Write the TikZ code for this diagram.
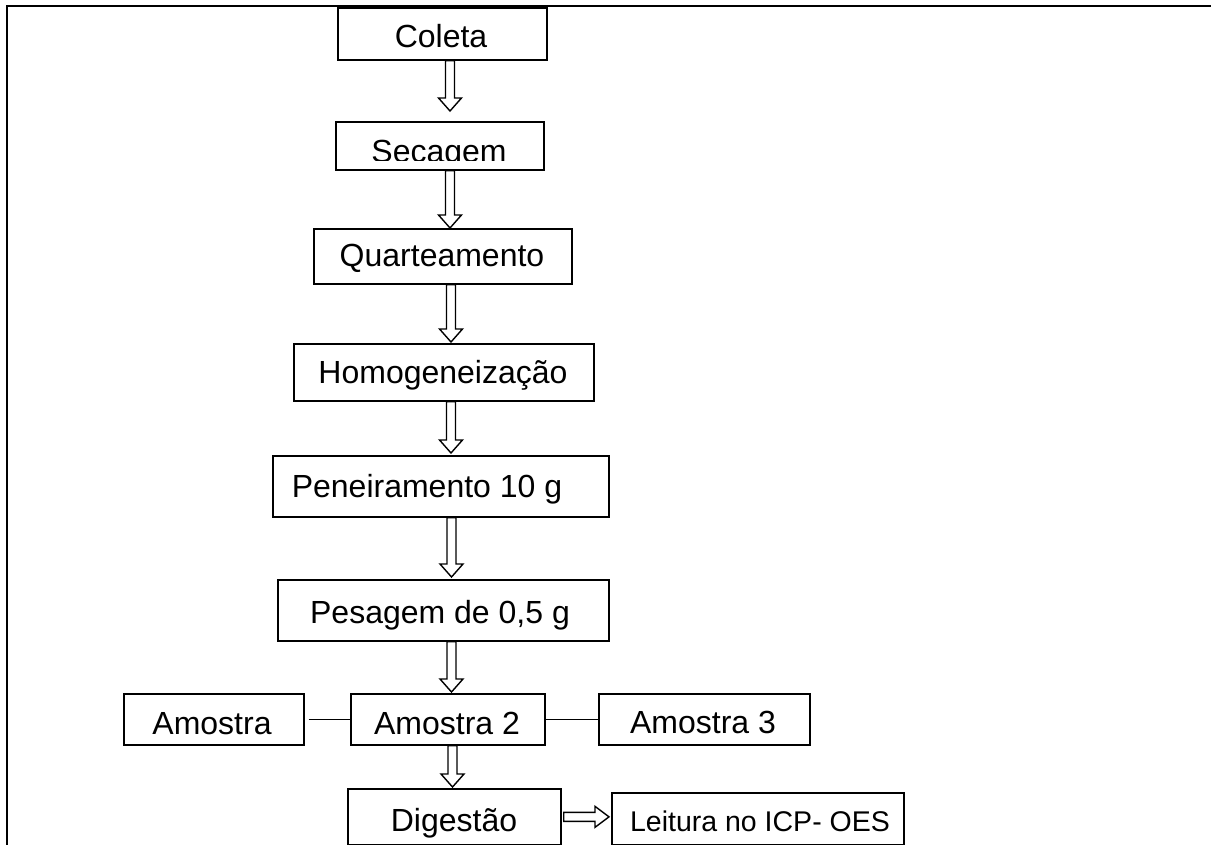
\documentclass[tikz,border=0pt]{standalone}
\usepackage{fontspec}
\setmainfont{Liberation Sans}
\usetikzlibrary{calc}
\tikzset{
  stepbox/.style={draw=black, line width=1.7pt, fill=white, inner sep=0pt, anchor=north west},
  lbl/.style={anchor=base, inner sep=0pt, font=\fontsize{32}{38}\selectfont},
  hollow/.style={draw=black, line width=1.4pt, fill=white, line join=miter},
  frameline/.style={draw=black, line width=2.6pt},
  link/.style={draw=black, line width=1.4pt}
}
% #1 from node, #2 to node, #3 x centre, #4 gap before target
\newcommand{\hollowdown}[4]{%
  \path let \p1=(#1.south), \p2=(#2.north) in
  [hollow] (#3pt-4.5pt,\y1) -- (#3pt+4.5pt,\y1) -- (#3pt+4.5pt,\y2+#4pt+13pt)
  -- (#3pt+11.5pt,\y2+#4pt+13pt) -- (#3pt,\y2+#4pt) -- (#3pt-11.5pt,\y2+#4pt+13pt)
  -- (#3pt-4.5pt,\y2+#4pt+13pt) -- cycle;}
\begin{document}
\begin{tikzpicture}[x=1pt,y=-1pt]
\useasboundingbox (0,0) rectangle (1211,845);
% frame
\draw[frameline] (7,847) -- (7,6) -- (1213,6);

% boxes
\node[stepbox, minimum width=209pt, minimum height=52pt] (coleta) at (337,7) {};
\node[stepbox, minimum width=208pt, minimum height=48pt] (secagem) at (335,121) {};
\node[stepbox, minimum width=258pt, minimum height=55pt] (quart) at (313,228) {};
\node[stepbox, minimum width=300pt, minimum height=57pt] (homog) at (293,343) {};
\node[stepbox, minimum width=336pt, minimum height=61pt] (pene) at (272,455) {};
\node[stepbox, minimum width=331pt, minimum height=61pt] (pesa) at (277,579) {};
\node[stepbox, minimum width=180pt, minimum height=51pt] (am1) at (123,693) {};
\node[stepbox, minimum width=194pt, minimum height=51pt] (am2) at (350,693) {};
\node[stepbox, minimum width=211pt, minimum height=51pt] (am3) at (598,693) {};
\node[stepbox, minimum width=213pt, minimum height=56pt] (dig) at (347,788) {};
\node[stepbox, minimum width=292pt, minimum height=52pt] (leit) at (611,792) {};

% labels
\node[lbl] (tcoleta) at (441,48) {Coleta};
\begin{scope}
  \clip (336,122) rectangle (542,161);
  \node[lbl] (tsecagem) at (439,163) {Secagem};
\end{scope}
\node[lbl] (tquart) at (442,267) {Quarteamento};
\node[lbl] (thomog) at (443,383) {Homogeneização};
\node[lbl] (tpene) at (427,497) {Peneiramento 10 g};
\node[lbl] (tpesa) at (440,623) {Pesagem de 0,5 g};
\node[lbl] (tam1) at (212,734) {Amostra};
\node[lbl] (tam2) at (447,734) {Amostra 2};
\node[lbl] (tam3) at (703,733) {Amostra 3};
\node[lbl] (tdig) at (454,831) {Digestão};
\node[lbl, font=\fontsize{28.5}{34}\selectfont] (tleit) at (760,831) {Leitura no ICP- OES};

% side links
\draw[link] (am1.east) ++(4,0) -- (am2.west);
\draw[link] (am2.east) -- (am3.west);

% hollow arrows
\hollowdown{coleta}{secagem}{450}{10}
\hollowdown{secagem}{quart}{450}{0}
\hollowdown{quart}{homog}{451}{1}
\hollowdown{homog}{pene}{451}{2}
\hollowdown{pene}{pesa}{451.5}{2}
\hollowdown{pesa}{am2}{451.5}{1}
\hollowdown{am2}{dig}{452.5}{1}
\path let \p1=(dig.east), \p2=(leit.west) in
  [hollow] (\x1+2pt,\y1-4.5pt) -- (\x2-16pt,\y1-4.5pt) -- (\x2-16pt,\y1-10.5pt)
  -- (\x2-2pt,\y1) -- (\x2-16pt,\y1+10.5pt) -- (\x2-16pt,\y1+4.5pt)
  -- (\x1+2pt,\y1+4.5pt) -- cycle;
\end{tikzpicture}
\end{document}
